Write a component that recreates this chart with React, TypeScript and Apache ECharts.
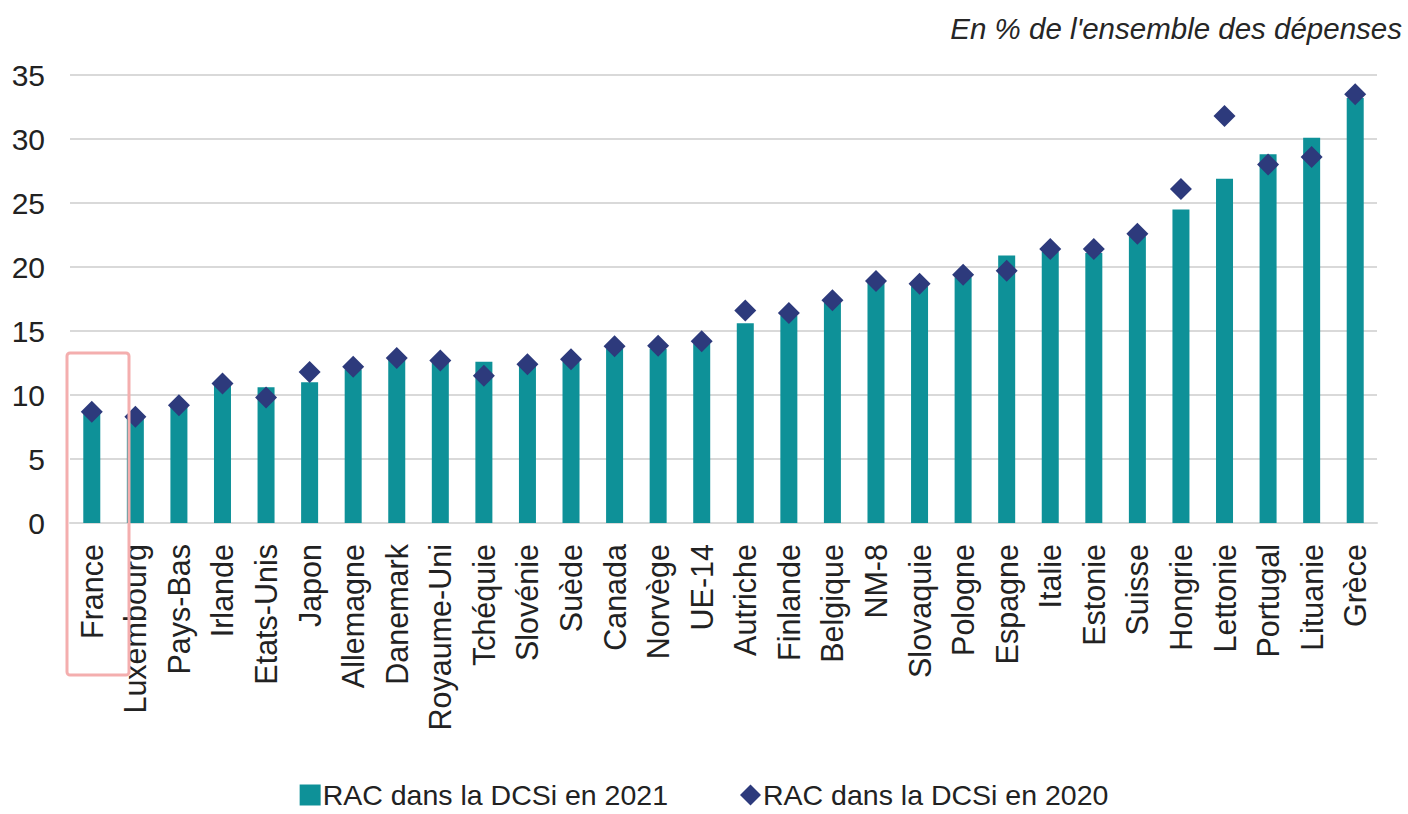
import React, { useEffect, useRef } from "react";
import * as echarts from "echarts";

const categories = [
  "France", "Luxembourg", "Pays-Bas", "Irlande", "Etats-Unis", "Japon", "Allemagne",
  "Danemark", "Royaume-Uni", "Tchéquie", "Slovénie", "Suède", "Canada", "Norvège",
  "UE-14", "Autriche", "Finlande", "Belgique", "NM-8", "Slovaquie", "Pologne",
  "Espagne", "Italie", "Estonie", "Suisse", "Hongrie", "Lettonie", "Portugal",
  "Lituanie", "Grèce",
];

const rac2021 = [
  8.8, 8.4, 9.1, 10.7, 10.6, 11.0, 12.0, 12.8, 12.5, 12.6, 12.3, 12.6, 13.6, 13.6,
  14.0, 15.6, 16.2, 17.2, 18.8, 18.5, 19.2, 20.9, 21.2, 21.1, 22.4, 24.5, 26.9,
  28.8, 30.1, 33.2,
];

const rac2020 = [
  8.7, 8.3, 9.2, 10.9, 9.8, 11.8, 12.2, 12.9, 12.7, 11.5, 12.4, 12.8, 13.8, 13.85,
  14.2, 16.6, 16.4, 17.4, 18.9, 18.7, 19.4, 19.7, 21.4, 21.4, 22.6, 26.1, 31.8,
  28.0, 28.6, 33.5,
];

const yTicks = { min: 0, max: 35, interval: 5 };
const subtitle = "En % de l'ensemble des dépenses";
const seriesNames = ["RAC dans la DCSi en 2021", "RAC dans la DCSi en 2020"];

export default function App() {
  const ref = useRef<HTMLDivElement>(null);

  useEffect(() => {
    document.body.style.margin = "0";
    if (!ref.current) return;
    const chart = echarts.init(ref.current, null, { renderer: "svg" });
    const font = "'Liberation Sans', Arial, sans-serif";
    chart.setOption({
      animation: false,
      backgroundColor: "#ffffff",
      textStyle: { fontFamily: font },
      title: {
        text: subtitle,
        right: 1,
        top: 8,
        textStyle: {
          fontFamily: font,
          fontStyle: "italic",
          fontWeight: "normal",
          fontSize: 29.5,
          color: "#262626",
        },
      },
      grid: { left: 70, right: 31, top: 75, bottom: 291, containLabel: false },
      legend: {
        top: 780,
        left: "center",
        padding: 0,
        itemGap: 72,
        itemWidth: 21,
        itemHeight: 21,
        textStyle: {
          fontFamily: font,
          fontSize: 28.5,
          lineHeight: 30,
          color: "#222222",
          padding: [0, 0, 0, -3],
        },
        data: [
          { name: seriesNames[0], icon: "rect" },
          { name: seriesNames[1], icon: "diamond" },
        ],
      },
      xAxis: {
        type: "category",
        data: categories,
        axisLine: { show: true, lineStyle: { color: "#d9d9d9", width: 2 } },
        axisTick: { show: false },
        axisLabel: {
          rotate: 90,
          interval: 0,
          fontSize: 30.5,
          color: "#222222",
          fontFamily: font,
          margin: 21,
        },
      },
      yAxis: {
        type: "value",
        min: yTicks.min,
        max: yTicks.max,
        interval: yTicks.interval,
        axisLine: { show: false },
        axisTick: { show: false },
        splitLine: { lineStyle: { color: "#d9d9d9", width: 2 } },
        axisLabel: { fontSize: 30, color: "#222222", fontFamily: font, margin: 25 },
      },
      series: [
        {
          name: seriesNames[0],
          type: "bar",
          data: rac2021,
          barWidth: 17,
          itemStyle: { color: "#0e9198" },
          z: 2,
        },
        {
          name: seriesNames[1],
          type: "scatter",
          data: rac2020,
          symbol: "diamond",
          symbolSize: [22, 22],
          itemStyle: { color: "#2d3a7c", opacity: 1 },
          z: 3,
        },
      ],
      graphic: [
        {
          type: "rect",
          shape: { x: 67, y: 353, width: 62, height: 322, r: 3 },
          style: { fill: "none", stroke: "#f4aeae", lineWidth: 3 },
          z: 10,
        },
      ],
    });
    return () => chart.dispose();
  }, []);

  return <div ref={ref} style={{ width: 1408, height: 814 }} />;
}
